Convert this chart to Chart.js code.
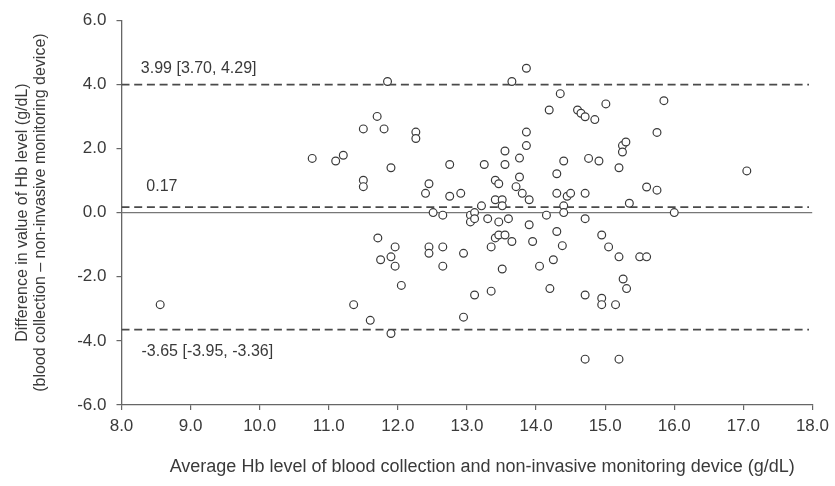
<!DOCTYPE html>
<html>
<head>
<meta charset="utf-8">
<script src="https://cdn.jsdelivr.net/npm/chart.js@4/dist/chart.umd.min.js"></script>
<style>
  html, body { margin: 0; padding: 0; background: #ffffff; }
  #wrap { width: 835px; height: 486px; position: relative; }
</style>
</head>
<body>
<div id="wrap"><canvas id="c" width="835" height="486"></canvas></div>
<script>
// Average Hb (x) and difference (y) for each subject
const avgHb = [
  8.56, 10.76, 11.10, 11.21, 11.36, 11.50, 11.50, 11.50, 11.60, 11.70,
  11.71, 11.75, 11.80, 11.85, 11.90, 11.90, 11.90, 11.96, 11.96, 12.05,
  12.26, 12.26, 12.40, 12.45, 12.45, 12.45, 12.51, 12.65, 12.65, 12.65,
  12.75, 12.75, 12.91, 12.95, 12.95, 13.05, 13.05, 13.11, 13.11, 13.11,
  13.21, 13.25, 13.30, 13.35, 13.35, 13.41, 13.41, 13.41, 13.46, 13.46,
  13.46, 13.51, 13.51, 13.51, 13.55, 13.55, 13.55, 13.60, 13.65, 13.65,
  13.71, 13.76, 13.76, 13.80, 13.86, 13.86, 13.86, 13.90, 13.90, 13.95,
  14.05, 14.15, 14.19, 14.20, 14.25, 14.30, 14.30, 14.30, 14.35, 14.38,
  14.40, 14.40, 14.40, 14.45, 14.50, 14.60, 14.65, 14.71, 14.71, 14.71,
  14.71, 14.71, 14.76, 14.85, 14.91, 14.95, 14.95, 14.95, 15.01, 15.05,
  15.15, 15.20, 15.20, 15.20, 15.25, 15.25, 15.26, 15.30, 15.31, 15.35,
  15.50, 15.60, 15.60, 15.75, 15.75, 15.85, 16.00, 17.05
];
const diffHb = [
  -2.87, 1.69, 1.61, 1.79, -2.87, 2.61, 1.01, 0.81, -3.36, 3.00,
  -0.79, -1.47, 2.61, 4.09, 1.40, -1.38, -3.77, -1.07, -1.67, -2.27,
  2.51, 2.31, 0.60, 0.90, -1.07, -1.27, 0.00, -0.08, -1.07, -1.67,
  1.50, 0.51, 0.60, -1.27, -3.26, -0.08, -0.29, 0.00, -0.19, -2.57,
  0.21, 1.50, -0.19, -1.07, -2.45, 1.01, 0.40, -0.79, 0.90, -0.29,
  -0.70, 0.40, 0.21, -1.76, 1.92, 1.50, -0.70, -0.19, 4.09, -0.90,
  0.81, 1.70, 1.11, 0.60, 4.50, 2.51, 2.09, 0.40, -0.38, -0.90,
  -1.67, -0.08, 3.20, -2.37, -1.47, 1.21, 0.60, -0.59, 3.71, -1.03,
  1.61, 0.21, 0.00, 0.51, 0.60, 3.20, 3.10, 2.99, 0.60, -0.19,
  -2.57, -4.57, 1.69, 2.90, 1.61, -0.70, -2.67, -2.87, 3.39, -1.07,
  -2.87, 1.40, -1.38, -4.57, 2.09, 1.89, -2.07, 2.20, -2.37, 0.29,
  -1.38, 0.80, -1.38, 2.50, 0.70, 3.49, 0.00, 1.30
];

// Bland-Altman reference lines
const meanDiff = 0.17;
const upperLoA = 3.99;
const lowerLoA = -3.65;
const lineSpan = [8.0, 17.95];

// Annotation texts with their anchor (data units)
const noteTexts = ['3.99 [3.70, 4.29]', '0.17', '-3.65 [-3.95, -3.36]'];
const noteX = [8.28, 8.36, 8.29];
const noteY = [4.49, 0.80, -4.33];

// Axis titles
const xTitle = 'Average Hb level of blood collection and non-invasive monitoring device (g/dL)';
const xTitleAnchor = 13.22; // horizontal centre of the x title, in x data units
const yTitle = ['Difference in value of Hb level (g/dL)', '(blood collection \u2013 non-invasive monitoring device)'];

const xTickMin = 8, xTickMax = 18, xStep = 1;
const yTickMin = -6, yTickMax = 6, yStep = 2;

const textColor = '#3a3a3a';
const FONT = '"Liberation Sans", Arial, sans-serif';

const points = avgHb.map((x, i) => ({ x: x, y: diffHb[i] }));
const hLine = (v, end) => [{ x: lineSpan[0], y: v }, { x: end, y: v }];

const notesPlugin = {
  id: 'notes',
  afterDatasetsDraw(chart) {
    const ctx = chart.ctx;
    const xs = chart.scales.x, ys = chart.scales.y;
    ctx.save();
    ctx.font = '16px ' + FONT;
    ctx.fillStyle = textColor;
    ctx.textAlign = 'left';
    ctx.textBaseline = 'middle';
    noteTexts.forEach((t, i) => {
      ctx.fillText(t, xs.getPixelForValue(noteX[i]), ys.getPixelForValue(noteY[i]));
    });
    // x-axis title
    ctx.font = '18px ' + FONT;
    ctx.textAlign = 'center';
    ctx.fillText(xTitle, xs.getPixelForValue(xTitleAnchor), xs.bottom - 19);
    ctx.restore();
  }
};

new Chart(document.getElementById('c'), {
  type: 'scatter',
  data: {
    datasets: [
      {
        label: 'Subjects',
        data: points,
        order: 0,
        pointRadius: 3.9,
        pointHoverRadius: 3.9,
        borderWidth: 1.2,
        pointBorderColor: '#3a3a3a',
        pointBackgroundColor: '#ffffff'
      },
      {
        label: 'Upper LoA', type: 'line', data: hLine(upperLoA, lineSpan[1]), order: 2,
        borderColor: '#4a4a4a', borderWidth: 1.7, borderDash: [8, 4.7], pointRadius: 0, fill: false
      },
      {
        label: 'Mean', type: 'line', data: hLine(meanDiff, lineSpan[1]), order: 2,
        borderColor: '#4a4a4a', borderWidth: 1.7, borderDash: [8, 4.7], pointRadius: 0, fill: false
      },
      {
        label: 'Lower LoA', type: 'line', data: hLine(lowerLoA, lineSpan[1]), order: 2,
        borderColor: '#4a4a4a', borderWidth: 1.7, borderDash: [8, 4.7], pointRadius: 0, fill: false
      },
      {
        label: 'Zero', type: 'line', data: hLine(0, xTickMax), order: 3,
        borderColor: '#777777', borderWidth: 1.2, pointRadius: 0, fill: false
      }
    ]
  },
  options: {
    responsive: false,
    animation: false,
    devicePixelRatio: 1,
    layout: { padding: { left: 0, right: 20, top: 18.5, bottom: 0 } },
    plugins: { legend: { display: false }, tooltip: { enabled: false } },
    scales: {
      x: {
        type: 'linear',
        min: xTickMin, max: xTickMax,
        afterFit(s) { s.height = 81; },
        grid: { display: true, drawOnChartArea: false, drawTicks: true, tickLength: 5, color: '#666666', lineWidth: 1.2 },
        border: { display: true, color: '#666666', width: 1.3 },
        ticks: {
          stepSize: xStep, padding: 6, color: textColor,
          font: { family: FONT, size: 17 },
          callback: v => Number(v).toFixed(1)
        },
        title: { display: false }
      },
      y: {
        type: 'linear',
        min: yTickMin, max: yTickMax,
        afterFit(s) { s.width = 121.5; },
        grid: { display: true, drawOnChartArea: false, drawTicks: true, tickLength: 5, color: '#666666', lineWidth: 1.2 },
        border: { display: true, color: '#666666', width: 1.3 },
        ticks: {
          stepSize: yStep, padding: 10, color: textColor,
          font: { family: FONT, size: 17 },
          callback: v => Number(v).toFixed(1)
        },
        title: {
          display: true,
          text: yTitle,
          color: textColor, font: { family: FONT, size: 16, lineHeight: 1.15 },
          padding: { top: 13, bottom: 0 }
        }
      }
    }
  },
  plugins: [notesPlugin]
});
</script>
</body>
</html>
